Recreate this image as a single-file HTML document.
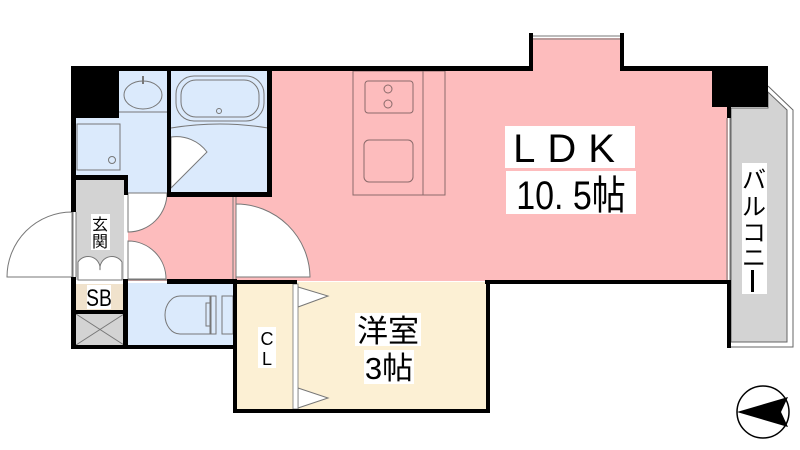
<!DOCTYPE html>
<html><head><meta charset="utf-8"><style>
html,body{margin:0;padding:0;background:#fff;width:800px;height:450px;overflow:hidden}
svg{display:block}
text{font-family:"Liberation Sans","Noto Sans CJK JP",sans-serif;fill:#000}
</style></head><body>
<svg width="800" height="450" viewBox="0 0 800 450" xmlns="http://www.w3.org/2000/svg">
<rect x="272" y="70" width="456" height="211" fill="#fdbcbd"/>
<rect x="533" y="38" width="88" height="33" fill="#fdbcbd"/>
<rect x="128" y="193" width="145" height="88" fill="#fdbcbd"/>
<rect x="76" y="70" width="92" height="123" fill="#dbeafc"/>
<rect x="171" y="70" width="97" height="123" fill="#dbeafc"/>
<rect x="128" y="283" width="105" height="63" fill="#dbeafc"/>
<rect x="76" y="179" width="48" height="101" fill="#d3d3d3"/>
<rect x="76" y="284" width="47" height="26" fill="#f0e2cc"/>
<rect x="76" y="314" width="48" height="31" fill="#d3d3d3"/>
<rect x="237" y="282" width="250" height="128" fill="#fcf0d4"/>
<path d="M731 108 L768 108 L768 92 L787 110 L787 342 L731 342 Z" fill="#d3d3d3" stroke="#666" stroke-width="1"/>
<path d="M768 86 L793 110 L793 347 L731 347" fill="none" stroke="#666" stroke-width="1"/>
<path d="M236 204 A74 74 0 0 1 310 277 L236 277 Z" fill="#fff" stroke="#777" stroke-width="1"/>
<path d="M128 193 L167 193 A39 39 0 0 1 128 232 Z" fill="#fff" stroke="#777" stroke-width="1"/>
<path d="M128 241 A38 38 0 0 1 166 279 L128 279 Z" fill="#fff" stroke="#777" stroke-width="1"/>
<path d="M72 212 A65 65 0 0 0 7 277 L72 277 Z" fill="#fff" stroke="#777" stroke-width="1"/>
<path d="M171 137 A38 38 0 0 1 207 152 L171 188 Z" fill="#fff" stroke="#777" stroke-width="1"/>
<path d="M78 280 L78 262 A12 12 0 0 1 100 270 A12 12 0 0 1 122 262 L122 280 Z" fill="#fff" stroke="#777" stroke-width="1"/>
<line x1="128" y1="193" x2="167" y2="193" stroke="#777"/>
<line x1="128" y1="280" x2="167" y2="280" stroke="#777"/>
<path d="M298 287 L328 296 L298 307 Z" fill="#fff" stroke="#777"/>
<path d="M298 388 L328 398 L298 408 Z" fill="#fff" stroke="#777"/>
<rect x="293" y="284" width="5" height="125" fill="#fff" stroke="#777" stroke-width="0.8"/>
<ellipse cx="143" cy="95" rx="19" ry="14" fill="none" stroke="#777"/>
<line x1="143" y1="76" x2="143" y2="84" stroke="#777" stroke-width="2"/>
<line x1="119" y1="112" x2="167" y2="112" stroke="#777"/>
<rect x="77" y="124" width="43" height="46" fill="none" stroke="#777"/>
<circle cx="112" cy="160" r="3.5" fill="none" stroke="#777"/>
<rect x="176" y="76" width="88" height="45" rx="18" fill="none" stroke="#777"/>
<rect x="181" y="80" width="78" height="37" rx="15" fill="none" stroke="#777"/>
<circle cx="219" cy="111" r="2.5" fill="none" stroke="#777"/>
<path d="M171 128 Q220 120 268 128" fill="none" stroke="#777"/>
<path d="M180 296 L210 296 L210 334 L180 334 A15 19 0 0 1 180 296 Z" fill="none" stroke="#777"/>
<rect x="206" y="303" width="5" height="23" fill="none" stroke="#777"/>
<rect x="211" y="296" width="5" height="38" fill="none" stroke="#777"/>
<rect x="222" y="296" width="11" height="38" fill="none" stroke="#777"/>
<line x1="76" y1="314" x2="124" y2="345" stroke="#777"/>
<line x1="124" y1="314" x2="76" y2="345" stroke="#777"/>
<rect x="353" y="71" width="92" height="124" fill="none" stroke="#8a6a6a"/>
<line x1="423" y1="71" x2="423" y2="195" stroke="#8a6a6a"/>
<rect x="365" y="81" width="48" height="32" rx="3" fill="none" stroke="#8a6a6a"/>
<circle cx="388" cy="89" r="4" fill="none" stroke="#8a6a6a"/>
<circle cx="388" cy="104" r="4" fill="none" stroke="#8a6a6a"/>
<rect x="364" y="140" width="49" height="42" rx="5" fill="none" stroke="#8a6a6a"/>
<line x1="529" y1="36" x2="624" y2="36" stroke="#777"/>
<line x1="529" y1="39" x2="624" y2="39" stroke="#777"/>
<line x1="727" y1="118" x2="727" y2="280" stroke="#777"/>
<line x1="730" y1="118" x2="730" y2="280" stroke="#777"/>
<line x1="73" y1="212" x2="73" y2="277" stroke="#777"/>
<line x1="76" y1="212" x2="76" y2="277" stroke="#777"/>
<line x1="233" y1="197" x2="233" y2="280" stroke="#777"/>
<line x1="236" y1="197" x2="236" y2="280" stroke="#777"/>
<g fill="#000">
<rect x="71" y="66" width="458" height="5"/>
<rect x="529" y="33" width="4" height="38"/>
<rect x="620" y="33" width="4" height="38"/>
<rect x="620" y="66" width="148" height="5"/>
<rect x="712" y="66" width="56" height="41"/>
<rect x="727" y="107" width="4" height="11"/>
<rect x="71" y="66" width="48" height="52"/>
<rect x="71" y="66" width="5" height="146"/>
<rect x="71" y="277" width="5" height="72"/>
<rect x="72" y="175" width="56" height="5"/>
<rect x="124" y="175" width="4" height="20"/>
<rect x="167" y="70" width="4" height="123"/>
<rect x="267" y="70" width="5" height="127"/>
<rect x="167" y="192" width="105" height="5"/>
<rect x="72" y="310" width="52" height="4"/>
<rect x="123" y="279" width="5" height="70"/>
<rect x="167" y="279" width="70" height="5"/>
<rect x="72" y="345" width="165" height="4"/>
<rect x="233" y="279" width="4" height="134"/>
<rect x="233" y="280" width="64" height="4"/>
<rect x="485" y="280" width="246" height="4"/>
<rect x="486" y="280" width="4" height="133"/>
<rect x="233" y="409" width="257" height="4"/>
<rect x="727" y="280" width="4" height="68"/>
</g>
<rect x="505" y="126" width="130" height="42" fill="#fff"/>
<text x="570" y="162" font-size="40" text-anchor="middle" letter-spacing="12">LDK</text>
<rect x="506" y="171" width="130" height="43" fill="#fff"/>
<text x="571" y="209" font-size="40" text-anchor="middle" transform="translate(571 0) scale(0.85 1) translate(-571 0)">10. 5帖</text>
<rect x="355" y="313" width="66" height="33" fill="#fff"/>
<text x="388" y="342" font-size="31" text-anchor="middle">洋室</text>
<rect x="364" y="350" width="50" height="34" fill="#fff"/>
<text x="389" y="379" font-size="31" text-anchor="middle">3帖</text>
<rect x="258" y="327" width="18" height="41" fill="#fff"/>
<text x="267" y="345" font-size="18" text-anchor="middle">C</text>
<text x="267" y="365" font-size="18" text-anchor="middle">L</text>
<rect x="91" y="214" width="19" height="36" fill="#fff"/>
<text x="100" y="230" font-size="16" text-anchor="middle">玄</text>
<text x="100" y="247" font-size="16" text-anchor="middle">関</text>
<rect x="87" y="285" width="24" height="24" fill="#fff"/>
<text x="99" y="306" font-size="24" text-anchor="middle" transform="translate(99 0) scale(0.8 1) translate(-99 0)">SB</text>
<rect x="742" y="163" width="25" height="131" fill="#fff"/>
<text x="754" y="188" font-size="24" text-anchor="middle">バ</text>
<text x="754" y="215" font-size="24" text-anchor="middle">ル</text>
<text x="754" y="241" font-size="24" text-anchor="middle">コ</text>
<text x="754" y="266" font-size="24" text-anchor="middle">ニ</text>
<rect x="751" y="270" width="3" height="22" fill="#000"/>
<circle cx="763" cy="412" r="26" fill="#fff" stroke="#000" stroke-width="1.5"/>
<path d="M737 412 L788 397 L781 412 L788 427 Z" fill="#000"/>
</svg>
</body></html>
